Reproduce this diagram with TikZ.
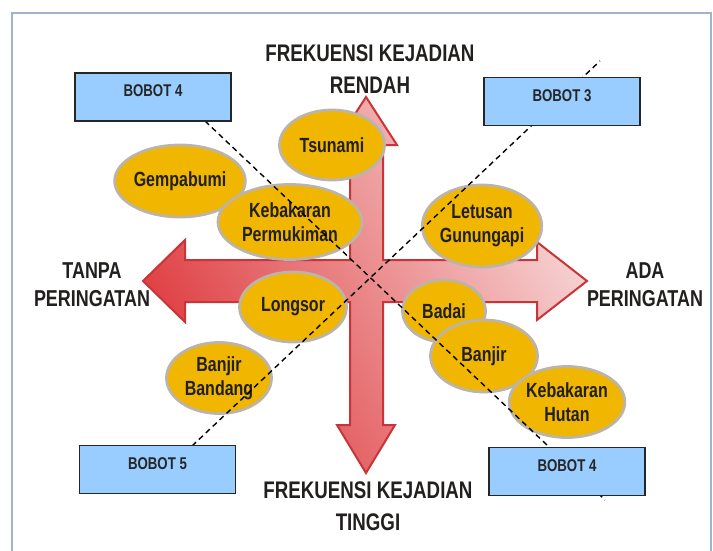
\documentclass[tikz,border=0pt]{standalone}
\usepackage{fontspec}
\setmainfont{Liberation Sans}[FakeStretch=0.78]
\usetikzlibrary{shapes.geometric}
\definecolor{framegray}{RGB}{160,180,208}
\definecolor{arrowred}{RGB}{222,58,62}
\definecolor{arrowpale}{RGB}{247,214,214}
\definecolor{arrowedge}{RGB}{200,52,56}
\definecolor{hazardgold}{RGB}{240,182,0}
\definecolor{hazardedge}{RGB}{188,180,166}
\definecolor{bobotblue}{RGB}{153,204,255}
\definecolor{inkdark}{RGB}{34,32,30}

\begin{document}
\begin{tikzpicture}[x=1pt, y=-1pt,
  hazard/.style={ellipse, fill=hazardgold, draw=hazardedge, line width=2.8pt, inner sep=0pt,
    align=center, text=inkdark, font=\fontsize{20.5}{24}\selectfont\bfseries},
  bobot/.style={rectangle, fill=bobotblue, draw=black!85, line width=1.5pt,
    minimum width=156pt, minimum height=48pt, text depth=12pt, text=black!85,
    font=\fontsize{17}{20}\selectfont\bfseries},
  axislabel/.style={align=center, inner sep=0pt, text=inkdark,
    font=\fontsize{24}{32}\selectfont\bfseries},
  guide/.style={dash pattern=on 5.5pt off 4pt, line width=1.4pt}]
  \useasboundingbox (0,0) rectangle (713,551);

  % 边框
  \draw[framegray, line width=1.5pt] (12,560) -- (12,13) -- (711,13) -- (711,560);

  % 十字箭头
  \filldraw[draw=arrowedge, line width=2pt, bottom color=arrowred,
    middle color=arrowred!55!arrowpale, top color=arrowpale, shading angle=-60]
    (143,281) -- (185,240) -- (185,260) -- (350,260) -- (350,145) -- (335,145)
    -- (366,97) -- (397,145) -- (383,145) -- (383,260) -- (537,260) -- (537,242)
    -- (587,281) -- (537,320) -- (537,302) -- (383,302) -- (383,425) -- (395,425)
    -- (366,473) -- (337,425) -- (350,425) -- (350,302) -- (185,302) -- (185,322)
    -- cycle;

  % 灾害
  \node[hazard, minimum width=105pt, minimum height=70pt] (tsunami) at (332,145) {Tsunami};
  \node[hazard, minimum width=107pt, minimum height=72pt] (gempa) at (180,181) {Gempabumi};
  \node[hazard, minimum width=144pt, minimum height=75pt] (permukiman) at (290,222) {Kebakaran\\Permukiman};
  \node[hazard, minimum width=106pt, minimum height=82pt] (letusan) at (482,226) {Letusan\\Gunungapi};
  \node[hazard, minimum width=107pt, minimum height=70pt] (longsor) at (293,307) {Longsor};
  \node[hazard, minimum width=105pt, minimum height=71pt] (bandang) at (219,378) {Banjir\\Bandang};
  \node[hazard, minimum width=83pt, minimum height=62pt] (badai) at (444,311) {Badai};
  \node[hazard, minimum width=107pt, minimum height=72pt] (banjir) at (484,356) {Banjir};
  \node[hazard, minimum width=115pt, minimum height=71pt] (hutan) at (567,402) {Kebakaran\\Hutan};

  % 对角虚线
  \coordinate (guideAs) at (205,121);
  \coordinate (guideAe) at (605,500);
  \coordinate (guideBs) at (192,446);
  \coordinate (guideBe) at (600,61);
  \draw[guide] (guideAs) -- (guideAe);
  \draw[guide] (guideBs) -- (guideBe);

  % 权重框
  \node[bobot] (bobotA) at (153,97) {BOBOT 4};
  \node[bobot] (bobotB) at (562,101.5) {BOBOT 3};
  \node[bobot] (bobotC) at (157.5,469.5) {BOBOT 5};
  \node[bobot] (bobotD) at (567,471.5) {BOBOT 4};

  % 轴标签
  \node[axislabel] (lblRendah) at (370,69) {FREKUENSI KEJADIAN\\RENDAH};
  \node[axislabel] (lblTinggi) at (368,506) {FREKUENSI KEJADIAN\\TINGGI};
  \node[axislabel, font=\fontsize{23}{28}\selectfont\bfseries] (lblTanpa) at (92,285) {TANPA\\PERINGATAN};
  \node[axislabel, font=\fontsize{23}{28}\selectfont\bfseries] (lblAda) at (645,285) {ADA\\PERINGATAN};
\end{tikzpicture}
\end{document}
